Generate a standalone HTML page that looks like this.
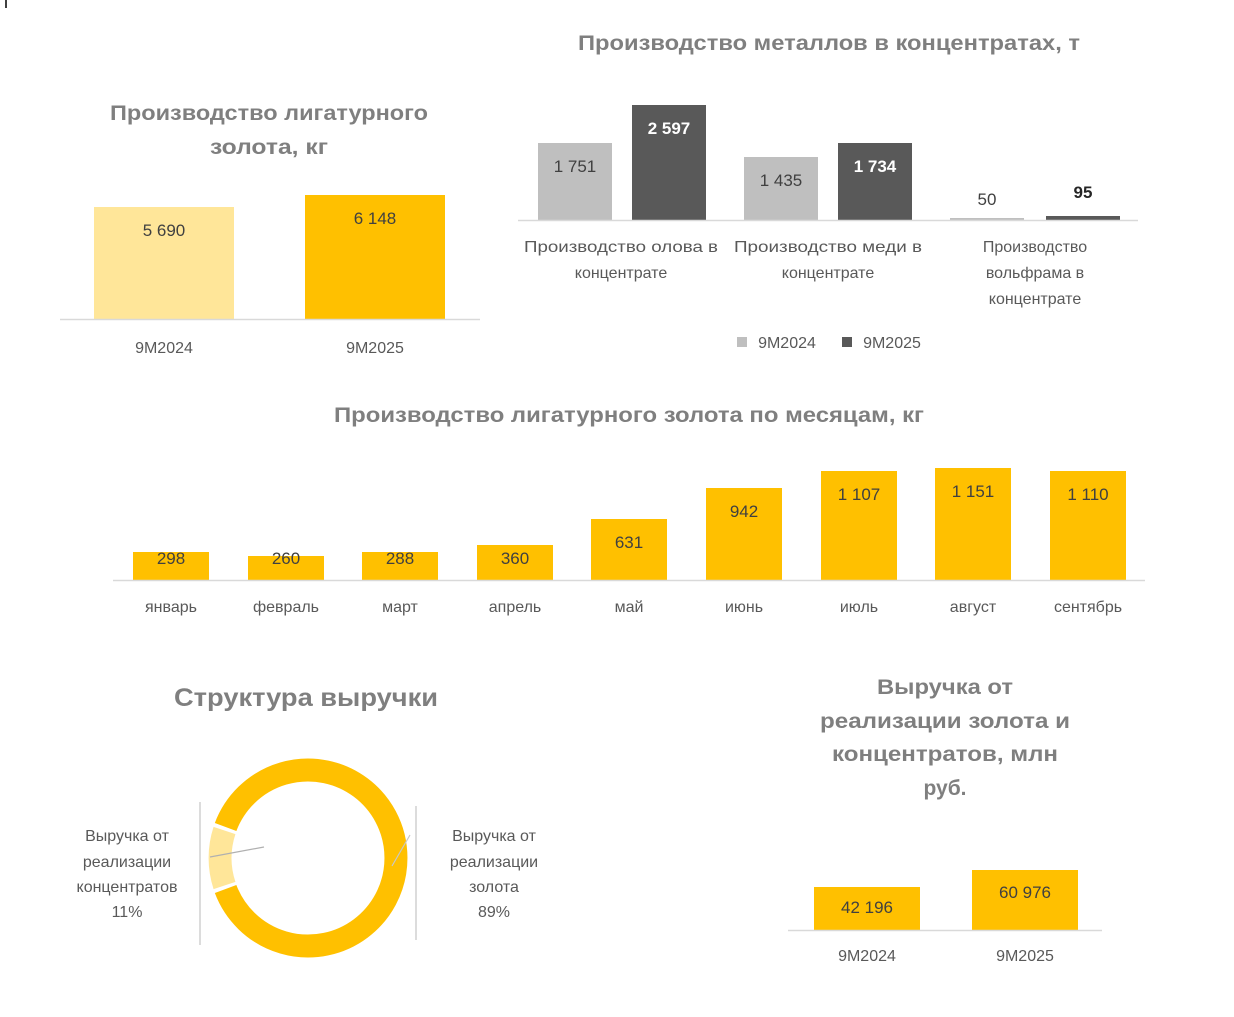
<!DOCTYPE html>
<html><head><meta charset="utf-8"><style>
html,body{margin:0;padding:0;background:#fff;}
svg{display:block;font-family:"Liberation Sans",sans-serif;}
.t{fill:#7f7f7f;font-weight:bold;font-size:21px;text-anchor:middle;}
.l{fill:#595959;font-size:16px;text-anchor:middle;}
.v{fill:#404040;font-size:17px;text-anchor:middle;}
</style></head><body>
<svg width="1234" height="1017" viewBox="0 0 1234 1017">
<rect width="1234" height="1017" fill="#fff"/>
<rect x="5" y="0" width="2" height="8" fill="#404040"/>
<!-- Chart 1 -->
<text class="t" x="269" y="120" textLength="318" lengthAdjust="spacingAndGlyphs">Производство лигатурного</text>
<text class="t" x="269" y="154" textLength="118" lengthAdjust="spacingAndGlyphs">золота, кг</text>
<rect x="94" y="207" width="140" height="112" fill="#FFE699"/>
<rect x="305" y="195" width="140" height="124" fill="#FFC000"/>
<line x1="60" y1="319.5" x2="480" y2="319.5" stroke="#d9d9d9" stroke-width="1.5"/>
<text class="v" x="164" y="236">5 690</text>
<text class="v" x="375" y="224">6 148</text>
<text class="l" x="164" y="353">9M2024</text>
<text class="l" x="375" y="353">9M2025</text>
<!-- Chart 2 -->
<text class="t" x="829" y="50" textLength="502" lengthAdjust="spacingAndGlyphs">Производство металлов в концентратах, т</text>
<rect x="538" y="143" width="74" height="77" fill="#BFBFBF"/>
<rect x="632" y="105" width="74" height="115" fill="#595959"/>
<rect x="744" y="157" width="74" height="63" fill="#BFBFBF"/>
<rect x="838" y="143" width="74" height="77" fill="#595959"/>
<rect x="950" y="218" width="74" height="2" fill="#BFBFBF"/>
<rect x="1046" y="216" width="74" height="4" fill="#595959"/>
<line x1="518" y1="220.5" x2="1138" y2="220.5" stroke="#d9d9d9" stroke-width="1.5"/>
<text class="v" x="575" y="172">1 751</text>
<text class="v" x="669" y="134" style="fill:#fff;font-weight:bold">2 597</text>
<text class="v" x="781" y="186">1 435</text>
<text class="v" x="875" y="172" style="fill:#fff;font-weight:bold">1 734</text>
<text class="v" x="987" y="205">50</text>
<text class="v" x="1083" y="198" style="font-weight:bold;fill:#262626">95</text>
<text class="l" x="621" y="252" textLength="194" lengthAdjust="spacingAndGlyphs">Производство олова в</text>
<text class="l" x="621" y="278">концентрате</text>
<text class="l" x="828" y="252" textLength="188" lengthAdjust="spacingAndGlyphs">Производство меди в</text>
<text class="l" x="828" y="278">концентрате</text>
<text class="l" x="1035" y="252">Производство</text>
<text class="l" x="1035" y="278">вольфрама в</text>
<text class="l" x="1035" y="304">концентрате</text>
<rect x="737" y="337" width="10" height="10" fill="#BFBFBF"/>
<text class="l" x="787" y="348">9M2024</text>
<rect x="842" y="337" width="10" height="10" fill="#595959"/>
<text class="l" x="892" y="348">9M2025</text>
<!-- Chart 3 -->
<text class="t" x="629" y="422" textLength="590" lengthAdjust="spacingAndGlyphs">Производство лигатурного золота по месяцам, кг</text>
<g fill="#FFC000">
<rect x="133" y="552" width="76" height="28"/>
<rect x="248" y="556" width="76" height="24"/>
<rect x="362" y="552" width="76" height="28"/>
<rect x="477" y="545" width="76" height="35"/>
<rect x="591" y="519" width="76" height="61"/>
<rect x="706" y="488" width="76" height="92"/>
<rect x="821" y="471" width="76" height="109"/>
<rect x="935" y="468" width="76" height="112"/>
<rect x="1050" y="471" width="76" height="109"/>
</g>
<line x1="113" y1="580.5" x2="1145" y2="580.5" stroke="#d9d9d9" stroke-width="1.5"/>
<text class="v" x="171" y="564">298</text>
<text class="v" x="286" y="564">260</text>
<text class="v" x="400" y="564">288</text>
<text class="v" x="515" y="564">360</text>
<text class="v" x="629" y="548">631</text>
<text class="v" x="744" y="517">942</text>
<text class="v" x="859" y="500">1 107</text>
<text class="v" x="973" y="497">1 151</text>
<text class="v" x="1088" y="500">1 110</text>
<text class="l" x="171" y="612">январь</text>
<text class="l" x="286" y="612">февраль</text>
<text class="l" x="400" y="612">март</text>
<text class="l" x="515" y="612">апрель</text>
<text class="l" x="629" y="612">май</text>
<text class="l" x="744" y="612">июнь</text>
<text class="l" x="859" y="612">июль</text>
<text class="l" x="973" y="612">август</text>
<text class="l" x="1088" y="612">сентябрь</text>
<!-- Chart 4 donut -->
<text class="t" x="306" y="706" style="font-size:25px" textLength="264" lengthAdjust="spacingAndGlyphs">Структура выручки</text>
<line x1="200" y1="802" x2="200" y2="945" stroke="#d0d0d0" stroke-width="1.5"/>
<line x1="416" y1="806" x2="416" y2="940" stroke="#d0d0d0" stroke-width="1.5"/>
<path d="M 225.6 889.0 A 88 88 0 1 0 225.6 827.0" fill="none" stroke="#FFC000" stroke-width="23"/>
<path d="M 224.5 830.5 A 88 88 0 0 0 224.5 885.5" fill="none" stroke="#FFE699" stroke-width="23"/>
<line x1="210" y1="857" x2="264" y2="847" stroke="#b0b0b0" stroke-width="1.2"/>
<line x1="392" y1="866" x2="410" y2="835" stroke="#c8c8c8" stroke-width="1.2"/>
<text class="l" x="127" y="841">Выручка от</text>
<text class="l" x="127" y="867">реализации</text>
<text class="l" x="127" y="892">концентратов</text>
<text class="l" x="127" y="917">11%</text>
<text class="l" x="494" y="841">Выручка от</text>
<text class="l" x="494" y="867">реализации</text>
<text class="l" x="494" y="892">золота</text>
<text class="l" x="494" y="917">89%</text>
<!-- Chart 5 -->
<text class="t" x="945" y="694" textLength="136" lengthAdjust="spacingAndGlyphs">Выручка от</text>
<text class="t" x="945" y="728" textLength="250" lengthAdjust="spacingAndGlyphs">реализации золота и</text>
<text class="t" x="945" y="761" textLength="226" lengthAdjust="spacingAndGlyphs">концентратов, млн</text>
<text class="t" x="945" y="795">руб.</text>
<rect x="814" y="887" width="106" height="43" fill="#FFC000"/>
<rect x="972" y="870" width="106" height="60" fill="#FFC000"/>
<line x1="788" y1="930.5" x2="1102" y2="930.5" stroke="#d9d9d9" stroke-width="1.5"/>
<text class="v" x="867" y="913">42 196</text>
<text class="v" x="1025" y="898">60 976</text>
<text class="l" x="867" y="961">9M2024</text>
<text class="l" x="1025" y="961">9M2025</text>
</svg>
</body></html>
